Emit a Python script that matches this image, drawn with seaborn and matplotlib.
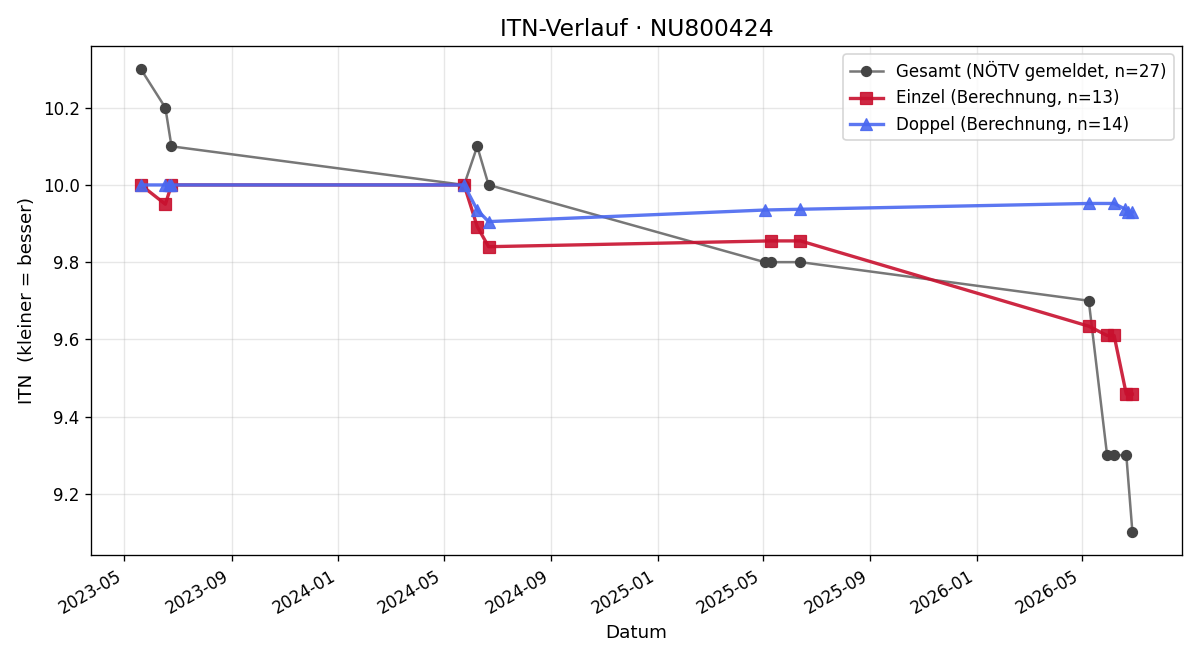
import pandas as pd
import matplotlib
matplotlib.use("Agg")
import matplotlib.pyplot as plt
import matplotlib.dates as mdates
import seaborn as sns

# Gesamt (NÖTV gemeldet)
gesamt_datum = ["2023-05-20", "2023-06-17", "2023-06-24", "2024-05-24", "2024-06-08",
                "2024-06-21", "2025-05-03", "2025-05-10", "2025-06-13", "2026-05-09",
                "2026-05-30", "2026-06-07", "2026-06-21", "2026-06-28"]
gesamt_itn = [10.3, 10.2, 10.1, 10.0, 10.1, 10.0, 9.8, 9.8, 9.8, 9.7, 9.3, 9.3, 9.3, 9.1]

# Einzel (Berechnung)
einzel_datum = ["2023-05-20", "2023-06-17", "2023-06-24", "2024-05-24", "2024-06-08",
                "2024-06-21", "2025-05-10", "2025-06-13", "2026-05-09", "2026-05-30",
                "2026-06-07", "2026-06-21", "2026-06-28"]
einzel_itn = [10.0, 9.95, 10.0, 10.0, 9.892, 9.84, 9.855, 9.855, 9.634, 9.61, 9.61, 9.458, 9.458]

# Doppel (Berechnung)
doppel_datum = ["2023-05-20", "2023-06-17", "2023-06-21", "2023-06-24", "2024-05-24",
                "2024-06-08", "2024-06-21", "2025-05-03", "2025-06-13", "2026-05-09",
                "2026-06-07", "2026-06-20", "2026-06-23", "2026-06-28"]
doppel_itn = [10.0, 10.0, 10.0, 10.0, 10.0, 9.935, 9.905, 9.935, 9.937, 9.952,
              9.952, 9.937, 9.93, 9.93]

gesamt = pd.DataFrame({"Datum": pd.to_datetime(gesamt_datum), "ITN": gesamt_itn})
einzel = pd.DataFrame({"Datum": pd.to_datetime(einzel_datum), "ITN": einzel_itn})
doppel = pd.DataFrame({"Datum": pd.to_datetime(doppel_datum), "ITN": doppel_itn})

fig, ax = plt.subplots(figsize=(10, 5.5), dpi=120)

sns.lineplot(data=gesamt, x="Datum", y="ITN", ax=ax, color="#777777", marker="o",
             markersize=6, markerfacecolor="#444444", markeredgecolor="#444444",
             linewidth=1.5, estimator=None, sort=False,
             label="Gesamt (NÖTV gemeldet, n=27)")
sns.lineplot(data=einzel, x="Datum", y="ITN", ax=ax, color="#C8102E", marker="s",
             markersize=7, markeredgecolor="#C8102E", linewidth=2, alpha=0.9,
             estimator=None, sort=False, label="Einzel (Berechnung, n=13)")
sns.lineplot(data=doppel, x="Datum", y="ITN", ax=ax, color="#4A68F0", marker="^",
             markersize=7, markeredgecolor="#4A68F0", linewidth=2, alpha=0.9,
             estimator=None, sort=False, label="Doppel (Berechnung, n=14)")

ax.set_title("ITN-Verlauf · NU800424", fontsize=14)
ax.set_xlabel("Datum", fontsize=11)
ax.set_ylabel("ITN  (kleiner = besser)", fontsize=11)
ax.grid(True, alpha=0.3)
ax.xaxis.set_major_locator(mdates.MonthLocator(bymonth=[1, 5, 9]))
ax.xaxis.set_major_formatter(mdates.DateFormatter("%Y-%m"))
ax.legend(loc="upper right", fontsize=10)
fig.autofmt_xdate()
fig.tight_layout()
fig.savefig("out.png")
